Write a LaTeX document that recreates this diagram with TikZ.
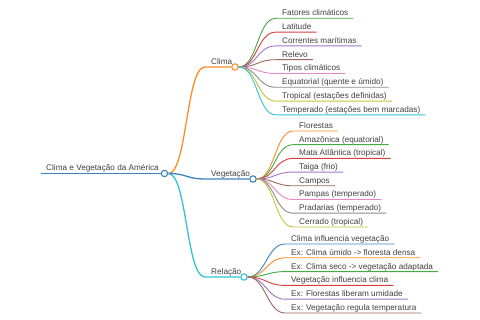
\documentclass[tikz,border=0pt]{standalone}
\usepackage{fontspec}
\setmainfont{Liberation Sans}
\definecolor{cblue}{HTML}{3D84BE}
\definecolor{corange}{HTML}{FF8C26}
\definecolor{cgreen}{HTML}{42AB42}
\definecolor{cred}{HTML}{DA3E3F}
\definecolor{cpurple}{HTML}{9F76C4}
\definecolor{cbrown}{HTML}{98685E}
\definecolor{cpink}{HTML}{E685C8}
\definecolor{cgrey}{HTML}{8C8C8C}
\definecolor{colive}{HTML}{C3C43A}
\definecolor{ccyan}{HTML}{2EC4D4}
\definecolor{txt}{HTML}{404040}
\tikzset{
  lbl/.style={inner sep=0pt, text=txt, font=\fontsize{8.2}{10}\selectfont, anchor=base west},
  dot/.style={circle, draw, fill=white, minimum size=6.4pt, inner sep=0pt, line width=1.1pt},
  rootline/.style={line width=1.5pt},
  midline/.style={line width=1.3pt},
  leafline/.style={line width=0.9pt},
}
\begin{document}
\begin{tikzpicture}[x=1pt,y=-1pt]
\useasboundingbox (0,0) rectangle (480,320);
% root
\coordinate (rs) at (41,173.5);
\node[lbl] (root) at (46,171) {Clima e Vegetação da América};
\node[dot, draw=cblue] (rootc) at (164.5,173.5) {};
\draw[rootline, cblue] (rs) -- (rootc.west);
% level 1
\coordinate (cls) at (205,67);
\node[lbl] (climat) at (211,64.5) {Clima};
\node[dot, draw=corange] (clima) at (235,67) {};
\draw[midline, corange] (rootc.east) .. controls +(19,0) and +(-19,0) .. (cls) -- (clima.west);

\coordinate (vgs) at (205,179);
\node[lbl] (vegt) at (211,176.5) {Vegetação};
\node[dot, draw=cblue] (veg) at (253,179) {};
\draw[midline, cblue] (rootc.east) .. controls +(19,0) and +(-19,0) .. (vgs) -- (veg.west);

\coordinate (rls) at (205,277);
\node[lbl] (relt) at (211,274.5) {Relação};
\node[dot, draw=ccyan] (rel) at (244,277) {};
\draw[midline, ccyan] (rootc.east) .. controls +(19,0) and +(-19,0) .. (rls) -- (rel.west);
% Clima leaves
\foreach \i/\y/\c/\t in {
  1/18.3/cgreen/{Fatores climáticos},
  2/32.1/cred/{Latitude},
  3/45.9/cpurple/{Correntes marítimas},
  4/59.7/cbrown/{Relevo},
  5/73.5/cpink/{Tipos climáticos},
  6/87.3/cgrey/{Equatorial (quente e úmido)},
  7/101.1/colive/{Tropical (estações definidas)},
  8/114.9/ccyan/{Temperado (estações bem marcadas)}} {
  \coordinate (c\i s) at (276,\y);
  \node[lbl] (c\i) at (282,\y-2.5) {\t};
  \coordinate (c\i e) at ([xshift=5pt]c\i.east |- c\i s);
  \draw[leafline, \c] (clima.east) .. controls +(19,0) and +(-19,0) .. (c\i s) -- (c\i e);
}
% Vegetacao leaves
\foreach \i/\y/\c/\t in {
  1/131/corange/{Florestas},
  2/144.7/cgreen/{Amazônica (equatorial)},
  3/158.4/cred/{Mata Atlântica (tropical)},
  4/172.1/cpurple/{Taiga (frio)},
  5/185.8/cbrown/{Campos},
  6/199.5/cpink/{Pampas (temperado)},
  7/213.2/cgrey/{Pradarias (temperado)},
  8/227/colive/{Cerrado (tropical)}} {
  \coordinate (v\i s) at (293,\y);
  \node[lbl] (v\i) at (299,\y-2.5) {\t};
  \coordinate (v\i e) at ([xshift=5pt]v\i.east |- v\i s);
  \draw[leafline, \c] (veg.east) .. controls +(18,0) and +(-18,0) .. (v\i s) -- (v\i e);
}
% Relacao leaves
\foreach \i/\y/\c/\t in {
  1/244/cblue/{Clima influencia vegetação},
  2/257.8/corange/{Ex: Clima úmido -> floresta densa},
  3/271.6/cgreen/{Ex: Clima seco -> vegetação adaptada},
  4/285.4/cred/{Vegetação influencia clima},
  5/299.2/cpurple/{Ex: Florestas liberam umidade},
  6/313/cbrown/{Ex: Vegetação regula temperatura}} {
  \coordinate (r\i s) at (285,\y);
  \node[lbl] (r\i) at (291,\y-2.5) {\t};
  \coordinate (r\i e) at ([xshift=5pt]r\i.east |- r\i s);
  \draw[leafline, \c] (rel.east) .. controls +(18,0) and +(-18,0) .. (r\i s) -- (r\i e);
}
\end{tikzpicture}
\end{document}
